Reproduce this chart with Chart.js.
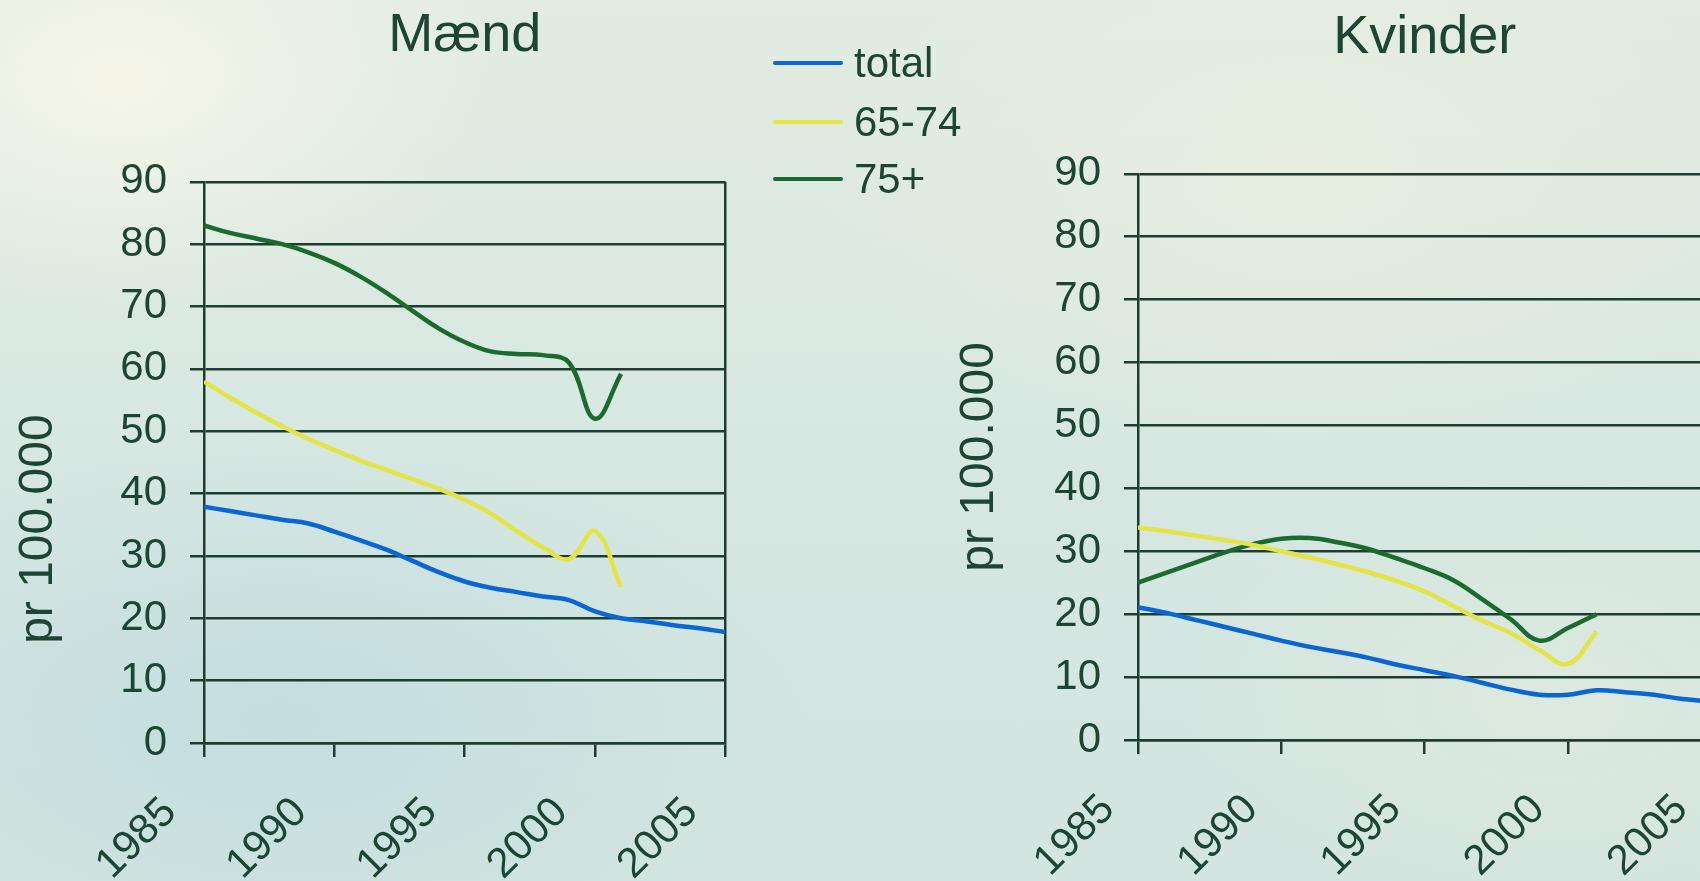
<!DOCTYPE html>
<html>
<head>
<meta charset="utf-8">
<script src="https://cdn.jsdelivr.net/npm/chart.js@4/dist/chart.umd.min.js"></script>
<style>
html,body{margin:0;padding:0;width:1700px;height:881px;overflow:hidden;}
body{position:relative;
background:
 radial-gradient(ellipse 520px 320px at 120px 80px, rgba(246,246,232,0.95), rgba(246,246,232,0) 75%),
 radial-gradient(ellipse 650px 380px at 1300px 170px, rgba(232,238,222,0.85), rgba(232,238,222,0) 75%),
 radial-gradient(ellipse 700px 380px at 280px 720px, rgba(192,220,222,0.85), rgba(192,220,222,0) 75%),
 radial-gradient(ellipse 500px 300px at 1550px 700px, rgba(222,234,222,0.8), rgba(222,234,222,0) 75%),
 linear-gradient(180deg, #e2ece1 0%, #d6e7e2 55%, #d2e5e0 100%);
}
canvas{position:absolute;top:0;}
#cm{left:0;}
#ck{left:950px;}
#legend{position:absolute;left:773px;top:0;font-family:"Liberation Sans",Arial,sans-serif;font-size:42px;color:#1c4533;}
.item{position:absolute;left:0;height:50px;line-height:50px;display:flex;align-items:center;white-space:nowrap;}
.swatch{width:70px;height:4px;border-radius:2px;margin-right:11px;}
</style>
</head>
<body>
<canvas id="cm" width="792" height="881"></canvas>
<canvas id="ck" width="828" height="881"></canvas>
<div id="legend"></div>
<script>
// ---------- data ----------
const YEARS = [1985,1986,1987,1988,1989,1990,1991,1992,1993,1994,1995,1996,1997,1998,1999,2000,2001,2002,2003,2004,2005];
const SERIES_LABELS = ['total', '65-74', '75+'];
const X_TICKS = [1985, 1990, 1995, 2000, 2005];
const Y_TICKS = [0, 10, 20, 30, 40, 50, 60, 70, 80, 90];
const TITLE_M = 'Mænd';
const TITLE_K = 'Kvinder';
const Y_TITLE = 'pr 100.000';

// Mænd
const maendTotal = [37.9, 37.2, 36.5, 35.8, 35.2, 33.9, 32.5, 31.0, 29.2, 27.4, 25.9, 24.9, 24.2, 23.5, 22.9, 21.1, 20.0, 19.5, 18.9, 18.4, 17.8];
const maend6574  = [58.0, 55.4, 53.0, 50.8, 48.8, 47.0, 45.3, 43.8, 42.3, 40.8, 39.0, 36.8, 34.0, 31.4, 29.5, 34.0, 25.0];
const maend75    = [83.0, 81.8, 80.9, 80.0, 78.7, 77.0, 74.8, 72.2, 69.3, 66.5, 64.3, 62.8, 62.4, 62.2, 61.0, 52.0, 59.2];

// Kvinder
const kvinderTotal = [21.1, 20.2, 19.1, 18.0, 16.9, 15.8, 14.8, 14.0, 13.1, 12.0, 11.1, 10.2, 9.1, 8.0, 7.2, 7.2, 7.9, 7.6, 7.2, 6.5, 6.1];
const kvinder6574  = [33.8, 33.2, 32.5, 31.8, 31.0, 30.0, 29.0, 27.9, 26.7, 25.3, 23.6, 21.3, 19.0, 17.0, 14.3, 12.1, 17.2];
const kvinder75    = [25.0, 26.6, 28.2, 29.8, 31.1, 32.0, 32.1, 31.4, 30.4, 28.9, 27.3, 25.4, 22.4, 19.2, 15.8, 17.8, 20.0];

// ---------- style ----------
const INK = '#1c4533';
const GRID = '#1e3d31';
const COLORS = ['#0a66d2', '#e4e446', '#1a6b2d'];
const FONT = '"Liberation Sans", Arial, sans-serif';

function pts(vals) { return vals.map((v, i) => ({x: YEARS[i], y: v})); }

function makeChart(id, cfg) {
  const datasets = cfg.series.map((vals, i) => ({
    label: SERIES_LABELS[i],
    data: pts(vals),
    borderColor: COLORS[i],
    backgroundColor: COLORS[i],
    borderWidth: 4.5,
    pointRadius: 0,
    tension: 0.4,
    fill: false
  }));
  return new Chart(document.getElementById(id), {
    type: 'line',
    data: {datasets},
    options: {
      responsive: false,
      animation: false,
      devicePixelRatio: 1,
      layout: {padding: {left: 0, top: 0, right: 0, bottom: 0}},
      plugins: {
        legend: {display: false},
        tooltip: {enabled: false},
        title: {
          display: true,
          text: cfg.title,
          color: INK,
          fullSize: false,
          font: {family: FONT, size: 54, weight: 'normal', lineHeight: 1.2},
          padding: {top: cfg.titleTop, bottom: cfg.titleBottom}
        }
      },
      scales: {
        x: {
          type: 'linear',
          min: 1985, max: 2005,
          afterBuildTicks: s => { s.ticks = X_TICKS.map(v => ({value: v})); },
          afterFit: s => { s.height = cfg.xHeight; },
          ticks: {
            color: INK,
            font: {family: FONT, size: 42},
            minRotation: 45, maxRotation: 45,
            autoSkip: false,
            labelOffset: cfg.labelOffset,
            padding: 31,
            callback: v => String(v)
          },
          grid: {
            color: c => (c.tick && c.tick.value === 2005) ? GRID : 'rgba(0,0,0,0)',
            lineWidth: 2.5,
            tickColor: GRID,
            tickLength: 14,
            tickWidth: 2.5,
            drawTicks: true
          },
          border: {display: true, color: GRID, width: 2.5}
        },
        y: {
          min: 0, max: 90,
          afterBuildTicks: s => { s.ticks = Y_TICKS.map(v => ({value: v})); },
          afterFit: s => { s.width = cfg.yWidth; },
          ticks: {
            color: INK,
            font: {family: FONT, size: 42},
            padding: 23
          },
          grid: {color: GRID, lineWidth: 2.5, tickLength: 14, tickColor: GRID},
          border: {display: true, color: GRID, width: 2.5},
          title: {
            display: true,
            text: cfg.yTitle,
            color: INK,
            font: {family: FONT, size: 48, lineHeight: 1.2},
            padding: {top: cfg.yTitlePad, bottom: 0}
          }
        }
      }
    }
  });
}

makeChart('cm', {
  series: [maendTotal, maend6574, maend75],
  title: TITLE_M,
  titleTop: 4, titleBottom: 113,
  xHeight: 138, yWidth: 204,
  labelOffset: -34,
  yTitle: Y_TITLE + '          ',
  yTitlePad: 10
});

makeChart('ck', {
  series: [kvinderTotal, kvinder6574, kvinder75],
  title: TITLE_K,
  titleTop: 6, titleBottom: 103,
  xHeight: 141, yWidth: 188,
  labelOffset: -30,
  yTitle: Y_TITLE,
  yTitlePad: 1
});

// legend
const legendCenters = [63, 122, 179];
const lg = document.getElementById('legend');
SERIES_LABELS.forEach((lab, i) => {
  const it = document.createElement('div');
  it.className = 'item';
  it.style.top = (legendCenters[i] - 25) + 'px';
  const sw = document.createElement('span');
  sw.className = 'swatch';
  sw.style.background = COLORS[i];
  const tx = document.createElement('span');
  tx.textContent = lab;
  it.appendChild(sw); it.appendChild(tx);
  lg.appendChild(it);
});
</script>
</body>
</html>
